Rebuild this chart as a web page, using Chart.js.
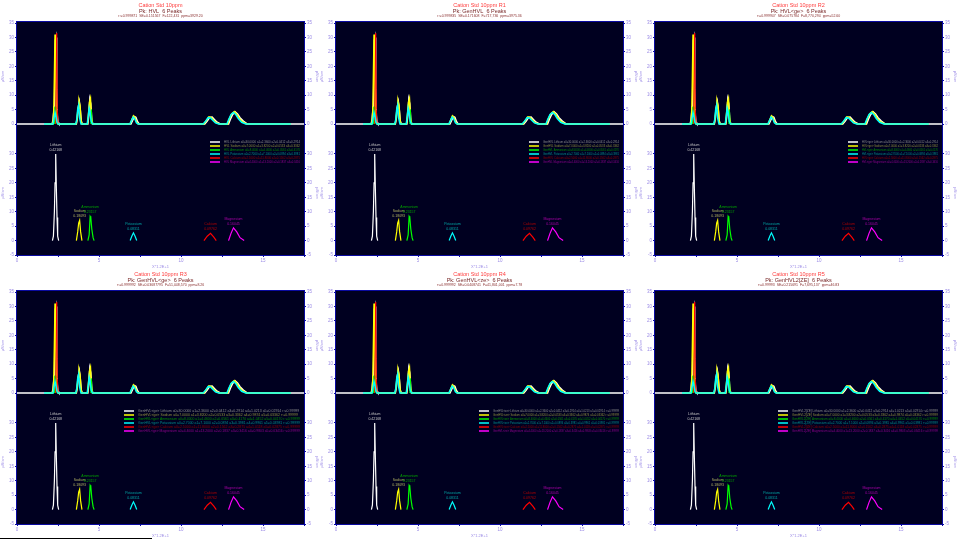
<!DOCTYPE html>
<html>
<head>
<meta charset="utf-8">
<script src="https://cdn.jsdelivr.net/npm/chart.js@4.4.1/dist/chart.umd.min.js"></script>
<style>
body { margin: 0; background: #fff; width: 960px; height: 540px; overflow: hidden; position: relative; }
.panel { position: absolute; width: 320px; height: 269px; }
.frame { position: absolute; left: 16px; top: 21px; width: 287px; height: 233px; background: #000020; border: 1px solid #0a0aa0; }
.panel canvas { position: absolute; left: 0; }
#rule { position: absolute; left: 0; top: 538px; width: 152px; height: 1px; background: #000; }
</style>
</head>
<body>
<div id="rule"></div>
<script>
// panel headings
let panelTitles = ['Cation Std 10ppm', 'Cation Std 10ppm R1', 'Cation Std 10ppm R2',
                   'Cation Std 10ppm R3', 'Cation Std 10ppm R4', 'Cation Std 10ppm R5'];
let panelModels = ['HVL', 'GenHVL', 'HVL<ge>', 'GenHVL<ge>', 'GenHVL<ze>', 'GenHVL2[ZE]'];
let panelStats = [
  'r\u00b2=0.999871  SE=0.151567  F=122,431  ppm=3929.20',
  'r\u00b2=0.999835  SE=0.171608  F=717,736  ppm=3975.36',
  'r\u00b2=0.999947  SE=0.075784  F=8,770,294  ppm=52.60',
  'r\u00b2=0.999992  SE=0.03687795  F=51,048,570  ppm=8.26',
  'r\u00b2=0.999992  SE=0.0408741  F=41,801,001  ppm=7.78',
  'r\u00b2=0.99993  SE=0.215691  F=7,695,137  ppm=46.83'
];

// peaks
let peakNames = ['Lithium', 'Sodium', 'Ammonium', 'Potassium', 'Calcium', 'Magnesium'];
let peakAreas = ['0.42168', '0.18093', '0.23157', '0.08311', '0.09762', '0.16045'];
let fitWidths = [0.0412, 0.0533, 0.0561, 0.0894, 0.1562, 0.1837];
let fitDistortions = [0.2914, 0.3362, 0.4170, 0.3981, 0.2875, 0.3416];
let fitShapes = [1.0213, 0.9874, 1.0452, 0.9961, 1.0118, 0.9803];

// separated peaks (bottom plot)
let lithiumX = [2.16, 2.22, 2.28, 2.32, 2.36, 2.40, 2.44, 2.48, 2.54];
let lithiumY = [0, 1.5, 10, 20, 30, 18, 8, 1.5, 0];
let sodiumX = [3.62, 3.70, 3.76, 3.82, 3.88, 3.96];
let sodiumY = [0, 3, 6, 7, 3, 0];
let ammoniumX = [4.32, 4.40, 4.46, 4.50, 4.56, 4.64, 4.70];
let ammoniumY = [0, 2, 8.4, 8, 4, 1, 0];
let potassiumX = [6.90, 7.00, 7.10, 7.20, 7.30];
let potassiumY = [0, 1.5, 2.7, 1.5, 0];
let calciumX = [11.40, 11.60, 11.80, 12.00, 12.15];
let calciumY = [0, 1.5, 2.5, 1.2, 0];
let magnesiumX = [12.90, 13.05, 13.20, 13.40, 13.60, 13.85];
let magnesiumY = [0, 2.5, 4.4, 3, 1, 0];

// overlaid traces (top plot)
let dataX = [0, 2.14, 2.2, 2.26, 2.3, 2.34, 2.38, 2.42, 2.46, 2.5, 2.56,
             3.62, 3.68, 3.74, 3.8, 3.86, 3.92, 3.98,
             4.32, 4.38, 4.44, 4.5, 4.56, 4.62,
             6.95, 7.05, 7.15, 7.25, 7.35, 7.45,
             11.45, 11.6, 11.75, 11.9, 12.05, 12.2, 12.4,
             12.9, 13.0, 13.15, 13.3, 13.45, 13.6, 13.8, 14.05, 17.5];
let dataY = [0, 0, 1.5, 6, 16, 29, 30, 12, 3, 0.5, 0,
             0, 2, 6, 7.8, 5, 1, 0,
             0, 3, 8.6, 7, 1.5, 0,
             0, 1.2, 2.6, 2.3, 0.8, 0,
             0, 1, 2.3, 2.4, 1.5, 0.6, 0,
             0, 1.5, 3.3, 4.2, 3.5, 2.2, 1, 0, 0];
let fitX = [1.7, 2.18, 2.24, 2.28, 2.32, 2.36, 2.4, 2.44, 2.5,
            3.6, 3.66, 3.72, 3.78, 3.84, 3.9, 3.96,
            4.3, 4.36, 4.42, 4.48, 4.54, 4.6,
            6.9, 7.0, 7.1, 7.2, 7.3, 7.4,
            11.4, 11.55, 11.7, 11.85, 12.0, 12.15, 12.35,
            12.85, 12.95, 13.1, 13.25, 13.4, 13.55, 13.75, 14.0, 16.7];
let fitY = [0, 0, 4, 16, 31, 17, 6, 1, 0,
            0, 1.5, 5.5, 8, 6.5, 1.5, 0,
            0, 3.5, 7.5, 8.8, 2, 0,
            0, 1.5, 2.8, 2.2, 0.6, 0,
            0, 1.2, 2.5, 2.3, 1.3, 0.5, 0,
            0, 1.8, 3.6, 4.3, 3.4, 2, 0.8, 0, 0];
let sumX = [1.65, 2.2, 2.26, 2.32, 2.38, 2.44, 2.5,
            3.58, 3.64, 3.7, 3.76, 3.82, 3.9,
            4.28, 4.34, 4.4, 4.46, 4.52, 4.6,
            6.88, 6.98, 7.08, 7.18, 7.28, 7.38,
            11.35, 11.5, 11.65, 11.8, 11.95, 12.1, 12.3,
            12.8, 12.9, 13.05, 13.2, 13.35, 13.5, 13.7, 13.95, 16.7];
let sumY = [0, 0, 2, 4, 2.5, 0.5, 0,
            0, 1.5, 5, 6.5, 2, 0,
            0, 2.5, 5.5, 4, 1, 0,
            0, 1.2, 2.4, 1.8, 0.4, 0,
            0, 1, 2.2, 2.1, 1.2, 0.4, 0,
            0, 1.5, 3.3, 4, 3.2, 1.8, 0.6, 0, 0];
let redX = [2.36, 2.42, 2.46, 2.5];
let redY = [0, 31.5, 5, 0];
let greenX = [2.28, 2.32, 2.36, 2.37, 4.5, 4.54, 4.58];
let greenY = [0, 6, 0, null, 0, 5, 0];

// ticks
let yTicksTop = [0, 5, 10, 15, 20, 25, 30, 35];
let yTicksBottom = [-5, 0, 5, 10, 15, 20, 25, 30];
let xTicks = [0, 2.5, 5, 7.5, 10, 12.5, 15, 17.5];

let peakColors = ['#ffffff', '#ffff00', '#00ff00', '#00ffff', '#ff0000', '#ff00ff'];
let labelColors = ['#c8c8c8', '#b4b464', '#00a000', '#00a8a8', '#b40000', '#a800a8'];
let legendColors = ['#8c8c8c', '#8c8c3c', '#008c00', '#008c8c', '#8c0000', '#8c008c'];
let legendLeft = [210, 210, 210, 124, 160, 140];
let tickColor = '#9c8ce6';
let fontFamily = '"Liberation Sans", Arial, sans-serif';

let peakX = [lithiumX, sodiumX, ammoniumX, potassiumX, calciumX, magnesiumX];
let peakY = [lithiumY, sodiumY, ammoniumY, potassiumY, calciumY, magnesiumY];

function pts(xs, ys) { return xs.map((x, i) => ({ x: x, y: ys[i] })); }

function yAxis(pos, min, max, ticks) {
  return {
    position: pos, min: min, max: max,
    afterBuildTicks: s => { s.ticks = ticks.map(v => ({ value: v })); },
    afterFit: s => { s.width = pos === 'left' ? 17 : 16; s.paddingTop = 0; s.paddingBottom = 0; },
    ticks: { color: tickColor, font: { size: 4.5, family: fontFamily }, padding: 1 },
    grid: { drawOnChartArea: false, tickLength: 2, color: '#0a0aa0' },
    border: { display: false },
    title: { display: true, text: '\u00b5S/cm', color: tickColor, font: { size: 4, family: fontFamily }, padding: 0 }
  };
}

let headingPlugin = {
  id: 'heading',
  afterDraw(chart, args, o) {
    let c = chart.ctx, cx = (chart.chartArea.left + chart.chartArea.right) / 2;
    c.save();
    c.textAlign = 'center'; c.textBaseline = 'middle';
    c.font = '5.5px ' + fontFamily; c.fillStyle = '#ff3c3c';
    c.fillText(o.title, cx, 5);
    c.fillStyle = '#7a2a2a';
    c.fillText('Pk: ' + o.model + '  6 Peaks', cx, 11);
    c.font = '3.5px ' + fontFamily; c.fillStyle = '#8a3030';
    c.fillText(o.stats, cx, 16);
    c.restore();
  }
};

let notesPlugin = {
  id: 'notes',
  afterDatasetsDraw(chart, args, o) {
    let c = chart.ctx, xs = chart.scales.x, ys = chart.scales.y, area = chart.chartArea;
    c.save();
    c.textAlign = 'center'; c.textBaseline = 'middle';
    c.font = '3.5px ' + fontFamily;
    peakNames.forEach((name, i) => {
      let top = Math.max(...peakY[i]);
      let t = peakX[i][peakY[i].indexOf(top)];
      let px = xs.getPixelForValue(t), py = ys.getPixelForValue(top);
      c.fillStyle = labelColors[i];
      c.fillText(name, px, py - 9);
      c.fillText(peakAreas[i], px, py - 4);
    });
    // legend rows
    let lx = o.left, right = area.right - 4;
    c.textAlign = 'left';
    c.font = '3.5px ' + fontFamily;
    peakNames.forEach((name, i) => {
      let ry = area.top + 11 + i * 4;
      c.strokeStyle = peakColors[i]; c.lineWidth = 1.5;
      c.beginPath(); c.moveTo(lx, ry); c.lineTo(lx + 10, ry); c.stroke();
      let top = Math.max(...peakY[i]);
      let t = peakX[i][peakY[i].indexOf(top)];
      let txt = o.model + ' ' + name + ' a0=' + top.toFixed(4) + ' a1=' + t.toFixed(4) +
                ' a2=' + fitWidths[i].toFixed(4) + ' a3=' + fitDistortions[i].toFixed(4);
      if (o.long) txt += ' a4=' + fitShapes[i].toFixed(4) + ' a5=' + (fitDistortions[i] * 0.1).toFixed(5) + ' r\u00b2=0.99999';
      c.fillStyle = legendColors[i];
      c.fillText(txt, lx + 14, ry, right - lx - 14);
    });
    c.restore();
  }
};

function makePanel(p) {
  let col = p % 3, row = Math.floor(p / 3);
  let panel = document.createElement('div');
  panel.className = 'panel';
  panel.style.left = [0, 319, 638][col] + 'px';
  panel.style.top = [0, 269][row] + 'px';
  panel.innerHTML = '<div class="frame"></div>' +
    '<canvas width="320" height="131" style="top:0"></canvas>' +
    '<canvas width="320" height="138" style="top:131px"></canvas>';
  document.body.appendChild(panel);
  let cvs = panel.querySelectorAll('canvas');

  let line = (xs, ys, color, w) => ({
    data: pts(xs, ys), borderColor: color, borderWidth: w,
    pointRadius: 0, spanGaps: false
  });

  new Chart(cvs[0].getContext('2d'), {
    type: 'line',
    data: {
      datasets: [
        line(sumX, sumY, '#00ffff', 1.5),
        line(redX, redY, '#ff0000', 1),
        line(greenX, greenY, '#00ff00', 1),
        line(fitX, fitY, '#ffff00', 1.5),
        line(dataX, dataY, '#ffffff', 1.5)
      ]
    },
    options: {
      responsive: false, animation: false, devicePixelRatio: 1,
      layout: { padding: { top: 22, left: 0, right: 0, bottom: 0 } },
      scales: {
        x: { type: 'linear', min: 0, max: 17.5, display: false },
        y: yAxis('left', -2.42, 35.35, yTicksTop),
        y2: yAxis('right', -2.42, 35.35, yTicksTop)
      },
      plugins: {
        legend: { display: false }, tooltip: { enabled: false },
        heading: { title: panelTitles[p], model: panelModels[p], stats: panelStats[p] }
      }
    },
    plugins: [headingPlugin]
  });

  new Chart(cvs[1].getContext('2d'), {
    type: 'line',
    data: {
      datasets: peakNames.map((name, i) => ({
        label: name, data: pts(peakX[i], peakY[i]), borderColor: peakColors[i],
        borderWidth: 1.2, pointRadius: 0
      }))
    },
    options: {
      responsive: false, animation: false, devicePixelRatio: 1,
      layout: { padding: 0 },
      scales: {
        x: {
          type: 'linear', min: 0, max: 17.5,
          afterBuildTicks: s => { s.ticks = xTicks.map(v => ({ value: v })); },
          afterFit: s => { s.height = 14; s.paddingLeft = 0; s.paddingRight = 0; },
          ticks: { color: tickColor, font: { size: 4.5, family: fontFamily }, padding: 1, maxRotation: 0,
                   callback: v => (v % 5 === 0 ? String(v) : '') },
          grid: { drawOnChartArea: false, tickLength: 2, color: '#0a0aa0' },
          border: { display: false },
          title: { display: true, text: 'X*1.2E+1', color: tickColor, font: { size: 4, family: fontFamily }, padding: 0 }
        },
        y: yAxis('left', -5, 37.97, yTicksBottom),
        y2: yAxis('right', -5, 37.97, yTicksBottom)
      },
      plugins: {
        legend: { display: false }, tooltip: { enabled: false },
        notes: { left: legendLeft[p], model: panelModels[p], long: row === 1 }
      }
    },
    plugins: [notesPlugin]
  });
}

for (let p = 0; p < 6; p++) makePanel(p);
</script>
</body>
</html>
